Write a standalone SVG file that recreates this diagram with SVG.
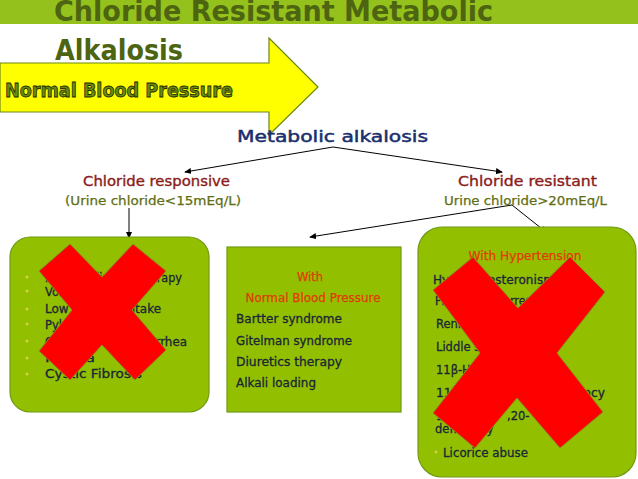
<svg xmlns="http://www.w3.org/2000/svg" width="638" height="479" viewBox="0 0 638 479">
<defs>
<style>
text{font-family:"DejaVu Sans","Liberation Sans",sans-serif}
.title{font-size:29px;font-weight:bold;fill:#4d6411}
.nbp{font-size:19px;font-weight:bold;fill:#6a8a10;stroke:#1e2a00;stroke-width:0.8}
.head{font-size:16px;fill:#1b2f6e;stroke:#1b2f6e;stroke-width:0.5}
.sub{font-size:13.5px;fill:#8b1c1c;stroke:#8b1c1c;stroke-width:0.35}
.urine{font-size:11.5px;fill:#5f6f12;stroke:#5f6f12;stroke-width:0.25}
.item{font-size:11.5px;fill:#1b2638;stroke:#1b2638;stroke-width:0.3}
.red{font-size:11.5px;fill:#e03a00;stroke:#e03a00;stroke-width:0.25}
.box{fill:#92c000;stroke:#6f9a14;stroke-width:1.2}
.x{fill:#ff0000;stroke:#8c8a1e;stroke-width:1}
.bul{fill:#d6cf4a}
.conn{stroke:#000;stroke-width:1;fill:none;marker-end:url(#ah)}
</style>
<marker id="ah" viewBox="0 0 8 8" refX="7" refY="4" markerWidth="7" markerHeight="7" orient="auto" markerUnits="userSpaceOnUse">
<path d="M0,0.5 L8,4 L0,7.5 Z" fill="#000"/>
</marker>
</defs>
<rect width="638" height="479" fill="#fff"/>
<g id="title">
<rect x="0" y="0" width="638" height="24" fill="#94c11c"/>
<text class="title" x="54" y="21" textLength="439" lengthAdjust="spacingAndGlyphs">Chloride Resistant Metabolic</text>
<text class="title" x="55" y="60" textLength="128" lengthAdjust="spacingAndGlyphs">Alkalosis</text>
</g>
<g id="banner">
<polygon points="0,63 269,63 269,38 318,87 269,135 269,112 0,112" fill="#ffff00" stroke="#6b8a14" stroke-width="1.2"/>
<text class="nbp" x="5" y="97" textLength="228" lengthAdjust="spacingAndGlyphs">Normal Blood Pressure</text>
</g>
<g id="connectors">
<line class="conn" x1="333" y1="147" x2="185" y2="172"/>
<line class="conn" x1="333" y1="147" x2="502" y2="172"/>
<line class="conn" x1="129" y1="208" x2="129" y2="238"/>
<line class="conn" x1="512" y1="205" x2="310" y2="237"/>
<line class="conn" x1="512" y1="205" x2="546" y2="232"/>
</g>
<g id="metabolic-alkalosis">
<text class="head" x="237" y="142" textLength="191" lengthAdjust="spacingAndGlyphs">Metabolic alkalosis</text>
</g>
<g id="chloride-responsive">
<text class="sub" x="83" y="186" textLength="147" lengthAdjust="spacingAndGlyphs">Chloride responsive</text>
<text class="urine" x="65" y="205" textLength="176" lengthAdjust="spacingAndGlyphs">(Urine chloride&lt;15mEq/L)</text>
</g>
<g id="chloride-resistant">
<text class="sub" x="458" y="186" textLength="139" lengthAdjust="spacingAndGlyphs">Chloride resistant</text>
<text class="urine" x="444" y="205" textLength="163" lengthAdjust="spacingAndGlyphs">Urine chloride&gt;20mEq/L</text>
</g>
<g id="responsive-box">
<rect class="box" x="10" y="237" width="199" height="175" rx="20"/>
<circle class="bul" cx="27" cy="277" r="1.5"/>
<circle class="bul" cx="27" cy="291" r="1.5"/>
<circle class="bul" cx="27" cy="309" r="1.5"/>
<circle class="bul" cx="27" cy="324" r="1.5"/>
<circle class="bul" cx="27" cy="341" r="1.5"/>
<circle class="bul" cx="27" cy="358" r="1.5"/>
<circle class="bul" cx="27" cy="374" r="1.5"/>
<text class="item" x="45" y="282" textLength="137" lengthAdjust="spacingAndGlyphs">Remote diuretic therapy</text>
<text class="item" x="45" y="296">Vomiting</text>
<text class="item" x="45" y="313" textLength="116" lengthAdjust="spacingAndGlyphs">Low chloride intake</text>
<text class="item" x="45" y="329">Pyloric stenosis</text>
<text class="item" x="45" y="346" textLength="142" lengthAdjust="spacingAndGlyphs">Chloride losing diarrhea</text>
<text class="item" x="45" y="362" textLength="50" lengthAdjust="spacingAndGlyphs">Fistula</text>
<text class="item" x="45" y="378" textLength="97" lengthAdjust="spacingAndGlyphs">Cystic Fibrosis</text>
<polygon class="x" points="70,244 102,277 133,244 166,271 132,310 166,350 135,380 102,345 70,380 39,351 72,310 39,271"/>
</g>
<g id="normal-bp-box">
<rect class="box" x="227" y="247" width="174" height="165"/>
<text class="red" x="310" y="281" text-anchor="middle">With</text>
<text class="red" x="313" y="302" text-anchor="middle" textLength="135" lengthAdjust="spacingAndGlyphs">Normal Blood Pressure</text>
<text class="item" x="236" y="323" textLength="106" lengthAdjust="spacingAndGlyphs">Bartter syndrome</text>
<text class="item" x="236" y="345" textLength="116" lengthAdjust="spacingAndGlyphs">Gitelman syndrome</text>
<text class="item" x="236" y="366" textLength="106" lengthAdjust="spacingAndGlyphs">Diuretics therapy</text>
<text class="item" x="236" y="387" textLength="80" lengthAdjust="spacingAndGlyphs">Alkali loading</text>
</g>
<g id="hypertension-box">
<rect class="box" x="418" y="227" width="218" height="250" rx="24"/>
<text class="red" x="525" y="260" text-anchor="middle" textLength="113" lengthAdjust="spacingAndGlyphs">With Hypertension</text>
<text class="item" x="433" y="284" textLength="122" lengthAdjust="spacingAndGlyphs">Hyperaldosteronism</text>
<text class="item" x="435" y="305" textLength="128" lengthAdjust="spacingAndGlyphs">Primary hyperreninism</text>
<text class="item" x="436" y="328">Renin secreting tumor</text>
<text class="item" x="436" y="351">Liddle syndrome</text>
<text class="item" x="436" y="374">11β-HSD deficiency</text>
<text class="item" x="436" y="397" textLength="169" lengthAdjust="spacingAndGlyphs">11β-hydroxylase deficiency</text>
<text class="item" x="436" y="420">17α-OH/17<tspan x="507">,20-</tspan><tspan x="545">lyase</tspan></text>
<text class="item" x="435" y="433">deficiency</text>
<circle class="bul" cx="436" cy="452" r="1.5"/>
<text class="item" x="443" y="457" textLength="85" lengthAdjust="spacingAndGlyphs">Licorice abuse</text>
<polygon class="x" points="473,257 518,308 570,257 605,292 557,353 603,412 560,448 517,398 475,448 433,413 480,353 433,290"/>
</g>
</svg>
